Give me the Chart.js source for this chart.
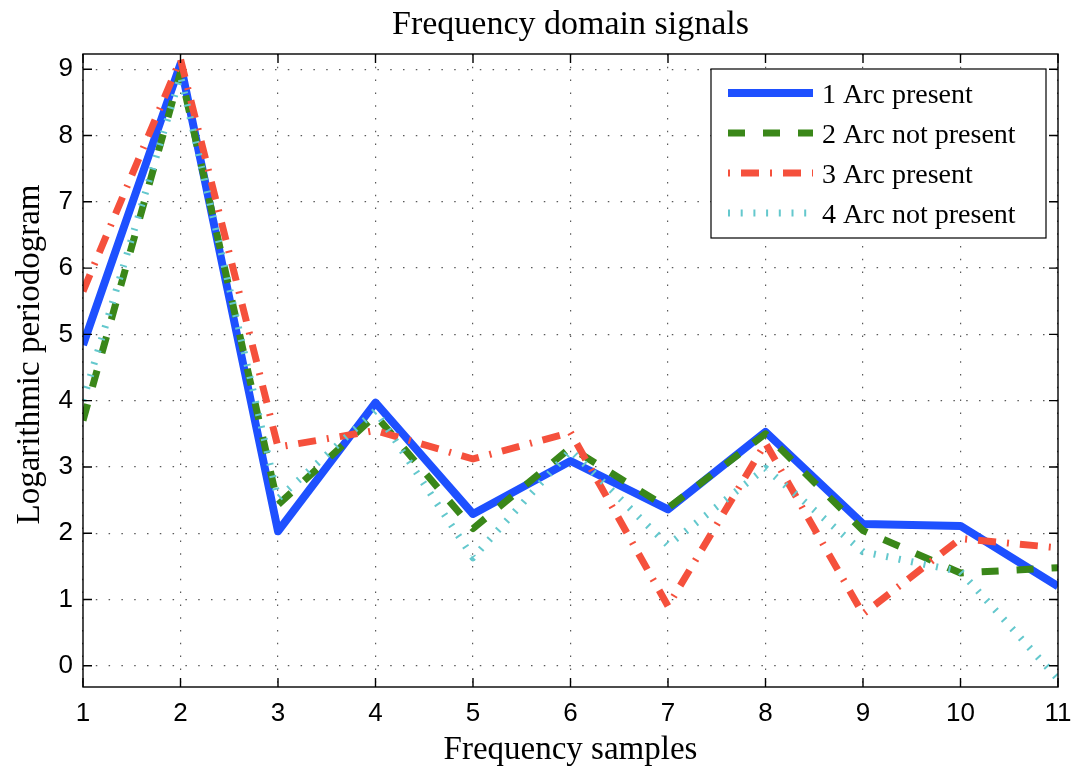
<!DOCTYPE html>
<html><head><meta charset="utf-8">
<script src="https://cdn.jsdelivr.net/npm/chart.js@4.4.1/dist/chart.umd.min.js"></script>
<style>html,body{margin:0;padding:0;background:#fff;} #wrap{width:1085px;height:774px;}</style>
</head><body><div id="wrap"><canvas id="c" width="1085" height="774"></canvas></div>
<script>
const xLabels = [1, 2, 3, 4, 5, 6, 7, 8, 9, 10, 11];
const yTicks = [0, 1, 2, 3, 4, 5, 6, 7, 8, 9];
const seriesNames = ['1 Arc present', '2 Arc not present', '3 Arc present', '4 Arc not present'];
const series1 = [4.84, 9.08, 2.03, 3.97, 2.29, 3.09, 2.36, 3.53, 2.14, 2.11, 1.20];
const series2 = [3.70, 8.95, 2.43, 3.78, 2.07, 3.29, 2.38, 3.50, 2.04, 1.40, 1.48];
const series3 = [5.65, 9.15, 3.30, 3.55, 3.12, 3.52, 0.90, 3.36, 0.78, 1.92, 1.78];
const series4 = [4.00, 8.90, 2.52, 3.85, 1.63, 3.25, 1.82, 2.98, 1.72, 1.42, -0.20];
const chartTitle = 'Frequency domain signals';
const xTitle = 'Frequency samples';
const yTitle = 'Logarithmic periodogram';

const SERIF = '"Liberation Serif", "Times New Roman", serif';
const SANS = '"Liberation Sans", Arial, sans-serif';

const styles = [
  {color: 'rgb(30,80,255)', width: 8, dash: []},
  {color: 'rgb(58,135,25)', width: 7, dash: [17, 18]},
  {color: 'rgb(245,80,60)', width: 7, dash: [18, 11, 2, 11]},
  {color: 'rgb(100,200,205)', width: 7, dash: [2, 10.7]}
];
const allSeries = [series1, series2, series3, series4];

const framePlugin = {
  id: 'frame',
  afterDatasetsDraw(chart) {
    const {ctx, chartArea: a, scales} = chart;
    ctx.save();
    ctx.strokeStyle = '#000';
    ctx.lineWidth = 1.4;
    ctx.setLineDash([]);
    ctx.strokeRect(a.left, a.top, a.right - a.left, a.bottom - a.top);
    const tl = 9;
    ctx.beginPath();
    xLabels.forEach((v, i) => {
      const px = scales.x.getPixelForValue(i);
      ctx.moveTo(px, a.bottom); ctx.lineTo(px, a.bottom - tl);
      ctx.moveTo(px, a.top); ctx.lineTo(px, a.top + tl);
    });
    yTicks.forEach(v => {
      const py = scales.y.getPixelForValue(v);
      ctx.moveTo(a.left, py); ctx.lineTo(a.left + tl, py);
      ctx.moveTo(a.right, py); ctx.lineTo(a.right - tl, py);
    });
    ctx.stroke();
    // titles
    ctx.fillStyle = '#000';
    ctx.textAlign = 'center';
    ctx.textBaseline = 'middle';
    ctx.font = '34px ' + SERIF;
    ctx.fillText(chartTitle, (a.left + a.right) / 2, 25);
    ctx.font = '33px ' + SERIF;
    ctx.fillText(xTitle, (a.left + a.right) / 2, 750);
    ctx.save();
    ctx.translate(30, (a.top + a.bottom) / 2 - 16);
    ctx.rotate(-Math.PI / 2);
    ctx.fillText(yTitle, 0, 0);
    ctx.restore();
    ctx.restore();
  }
};

const legendPlugin = {
  id: 'mlLegend',
  afterDraw(chart) {
    const {ctx, chartArea: a} = chart;
    const w = 335, h = 169;
    const x0 = a.right - 12 - w, y0 = a.top + 15;
    ctx.save();
    ctx.fillStyle = '#fff';
    ctx.fillRect(x0, y0, w, h);
    ctx.strokeStyle = '#000';
    ctx.lineWidth = 1.2;
    ctx.strokeRect(x0, y0, w, h);
    chart.data.datasets.forEach((ds, i) => {
      const y = y0 + 24 + i * 40;
      ctx.beginPath();
      ctx.setLineDash(ds.borderDash || []);
      ctx.lineDashOffset = (i === 2) ? 29 : 0;
      ctx.lineWidth = ds.borderWidth;
      ctx.strokeStyle = ds.borderColor;
      ctx.lineCap = 'butt';
      ctx.moveTo(x0 + 17, y);
      ctx.lineTo(x0 + 102, y);
      ctx.stroke();
      ctx.setLineDash([]);
      ctx.fillStyle = '#000';
      ctx.font = '28px ' + SERIF;
      ctx.textBaseline = 'middle';
      ctx.textAlign = 'left';
      ctx.fillText(ds.label, x0 + 111, y + 3);
    });
    ctx.restore();
  }
};

const datasets = allSeries.map((s, i) => ({
  label: seriesNames[i],
  data: s,
  borderColor: styles[i].color,
  backgroundColor: styles[i].color,
  borderWidth: styles[i].width,
  borderDash: styles[i].dash,
  borderCapStyle: 'butt',
  borderJoinStyle: 'round',
  pointRadius: 0,
  pointHoverRadius: 0,
  tension: 0,
  fill: false,
  clip: 0,
  order: 4 - i
}));

new Chart(document.getElementById('c'), {
  type: 'line',
  data: {labels: xLabels, datasets},
  plugins: [framePlugin, legendPlugin],
  options: {
    responsive: false,
    animation: false,
    events: [],
    layout: {padding: {left: 0, right: 27, top: 54, bottom: 0}},
    plugins: {
      legend: {display: false},
      tooltip: {enabled: false},
      title: {display: false}
    },
    scales: {
      x: {
        type: 'category',
        offset: false,
        afterFit(scale) { scale.height = 87; },
        grid: {color: 'rgba(60,60,60,0.85)', lineWidth: 1.2, drawTicks: false},
        border: {display: false, dash: [1.5, 11.3]},
        ticks: {color: '#000', font: {family: SANS, size: 26}, padding: 11, maxRotation: 0, autoSkip: false},
        title: {display: false}
      },
      y: {
        type: 'linear',
        min: -0.32,
        max: 9.23,
        afterFit(scale) { scale.width = 83; },
        afterBuildTicks(scale) { scale.ticks = yTicks.map(v => ({value: v})); },
        grid: {color: 'rgba(60,60,60,0.85)', lineWidth: 1.2, drawTicks: false},
        border: {display: false, dash: [1.5, 11.3]},
        ticks: {color: '#000', font: {family: SANS, size: 26}, padding: 10},
        title: {display: false}
      }
    }
  }
});
</script>
</body></html>
